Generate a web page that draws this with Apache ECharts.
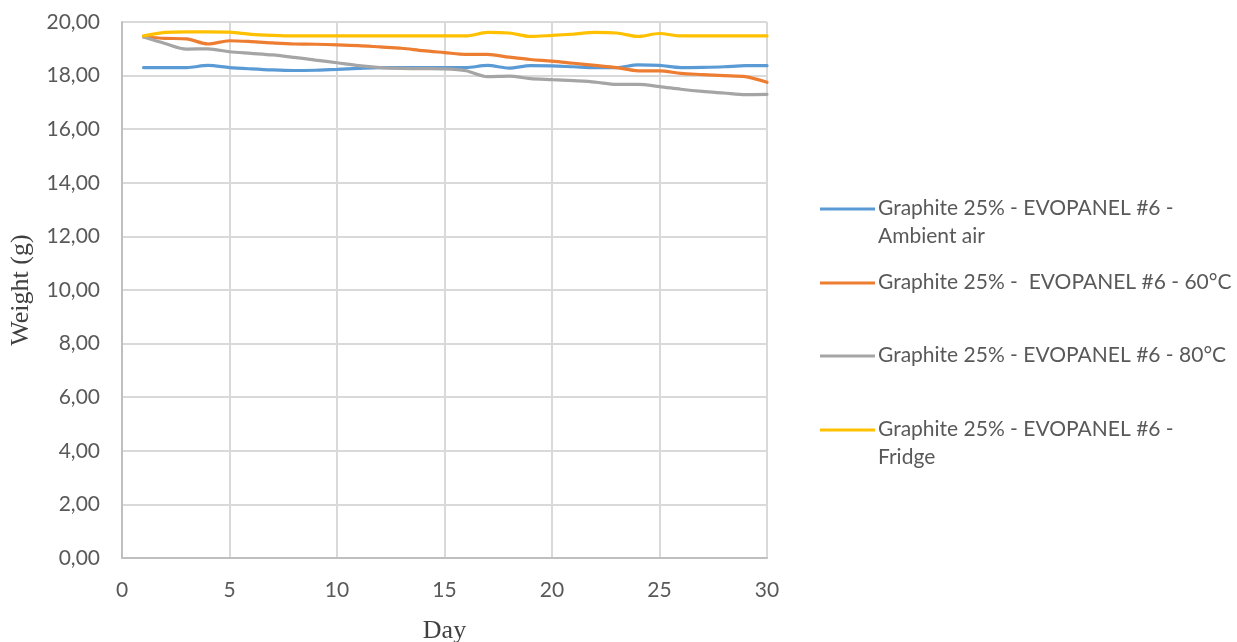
<!DOCTYPE html>
<html>
<head>
<meta charset="utf-8">
<script src="https://cdn.jsdelivr.net/npm/echarts@6/dist/echarts.min.js"></script>
<style>
  html, body { margin: 0; padding: 0; background: #ffffff; }
  #chart { width: 1237px; height: 642px; }
</style>
</head>
<body>
<div id="chart"></div>
<script>
// Sample weight (g) measured each day, days 1 to 30
const days = [1,2,3,4,5,6,7,8,9,10,11,12,13,14,15,16,17,18,19,20,21,22,23,24,25,26,27,28,29,30];

const ambientAir = [18.30,18.30,18.30,18.38,18.30,18.25,18.21,18.19,18.20,18.23,18.27,18.30,18.30,18.30,18.30,18.30,18.38,18.28,18.37,18.36,18.33,18.30,18.30,18.40,18.38,18.30,18.31,18.33,18.37,18.37];
const temp60 = [19.44,19.39,19.37,19.18,19.30,19.27,19.22,19.18,19.17,19.15,19.12,19.07,19.02,18.93,18.86,18.79,18.79,18.69,18.60,18.54,18.46,18.38,18.30,18.18,18.18,18.08,18.04,18.00,17.96,17.75];
const temp80 = [19.44,19.20,18.99,19.00,18.89,18.83,18.77,18.68,18.58,18.48,18.37,18.30,18.27,18.26,18.25,18.18,17.96,17.98,17.89,17.85,17.81,17.76,17.67,17.67,17.59,17.49,17.41,17.35,17.29,17.30];
const fridge = [19.48,19.61,19.63,19.63,19.62,19.54,19.50,19.48,19.48,19.48,19.48,19.48,19.48,19.48,19.48,19.48,19.61,19.59,19.46,19.50,19.55,19.61,19.59,19.46,19.57,19.48,19.48,19.48,19.48,19.48];

const seriesNames = [
  'Graphite 25% - EVOPANEL #6 - Ambient air',
  'Graphite 25% -  EVOPANEL #6 - 60°C',
  'Graphite 25% - EVOPANEL #6 - 80°C',
  'Graphite 25% - EVOPANEL #6 - Fridge'
];
// Wrapped legend labels, one array of lines per series
const legendLines = [
  ['Graphite 25% - EVOPANEL #6 -', 'Ambient air'],
  ['Graphite 25% -  EVOPANEL #6 - 60°C'],
  ['Graphite 25% - EVOPANEL #6 - 80°C'],
  ['Graphite 25% - EVOPANEL #6 -', 'Fridge']
];
const seriesValues = [ambientAir, temp60, temp80, fridge];
const colors = ['#5b9bd5', '#ed7d31', '#a5a5a5', '#ffc000'];

const labelFont = 'Lato, "Open Sans", sans-serif';
const titleFont = '"Liberation Serif", "DejaVu Serif", serif';

const chart = echarts.init(document.getElementById('chart'));

// Legend drawn as graphic elements so the key line sits on the first text line
const legendTops = [209, 283, 356, 430];
const legendGraphics = [];
seriesNames.forEach(function (name, i) {
  const top = legendTops[i];
  legendGraphics.push({
    type: 'line',
    shape: { x1: 820, y1: top, x2: 875, y2: top },
    style: { stroke: colors[i], lineWidth: 3 }
  });
  legendGraphics.push({
    type: 'text',
    x: 878,
    y: top - 15,
    style: {
      text: legendLines[i].join('\n'),
      font: '21px ' + labelFont,
      fill: '#595959',
      lineHeight: 28
    }
  });
});

chart.setOption({
  animation: false,
  backgroundColor: '#ffffff',
  grid: {
    left: 122, right: 470, top: 22, bottom: 84,
    containLabel: false,
    outerBoundsMode: 'none'
  },
  xAxis: {
    type: 'value',
    min: 0, max: 30, interval: 5,
    name: 'Day',
    nameLocation: 'middle',
    nameGap: 60,
    nameTextStyle: { fontFamily: titleFont, fontSize: 26, color: '#404040' },
    axisLine: { show: true, lineStyle: { color: '#bfbfbf', width: 2 } },
    axisTick: { show: false },
    axisLabel: { margin: 22, fontFamily: labelFont, fontSize: 21, color: '#595959' },
    splitLine: { show: true, lineStyle: { color: '#d9d9d9', width: 2 } }
  },
  yAxis: {
    type: 'value',
    min: 0, max: 20, interval: 2,
    name: 'Weight (g)',
    nameLocation: 'middle',
    nameGap: 88,
    nameTextStyle: { fontFamily: titleFont, fontSize: 26, color: '#404040' },
    axisLine: { show: true, lineStyle: { color: '#bfbfbf', width: 2 } },
    axisTick: { show: false },
    axisLabel: {
      margin: 22, fontFamily: labelFont, fontSize: 21, color: '#595959',
      formatter: function (v) { return v.toFixed(2).replace('.', ','); }
    },
    splitLine: { show: true, lineStyle: { color: '#d9d9d9', width: 2 } }
  },
  series: seriesNames.map(function (name, i) {
    return {
      name: name,
      type: 'line',
      smooth: 0.3,
      symbol: 'none',
      data: days.map(function (d, k) { return [d, seriesValues[i][k]]; }),
      lineStyle: { color: colors[i], width: 3.2, cap: 'round' },
      itemStyle: { color: colors[i] },
      z: 2 + i
    };
  }),
  graphic: legendGraphics
});
</script>
</body>
</html>
